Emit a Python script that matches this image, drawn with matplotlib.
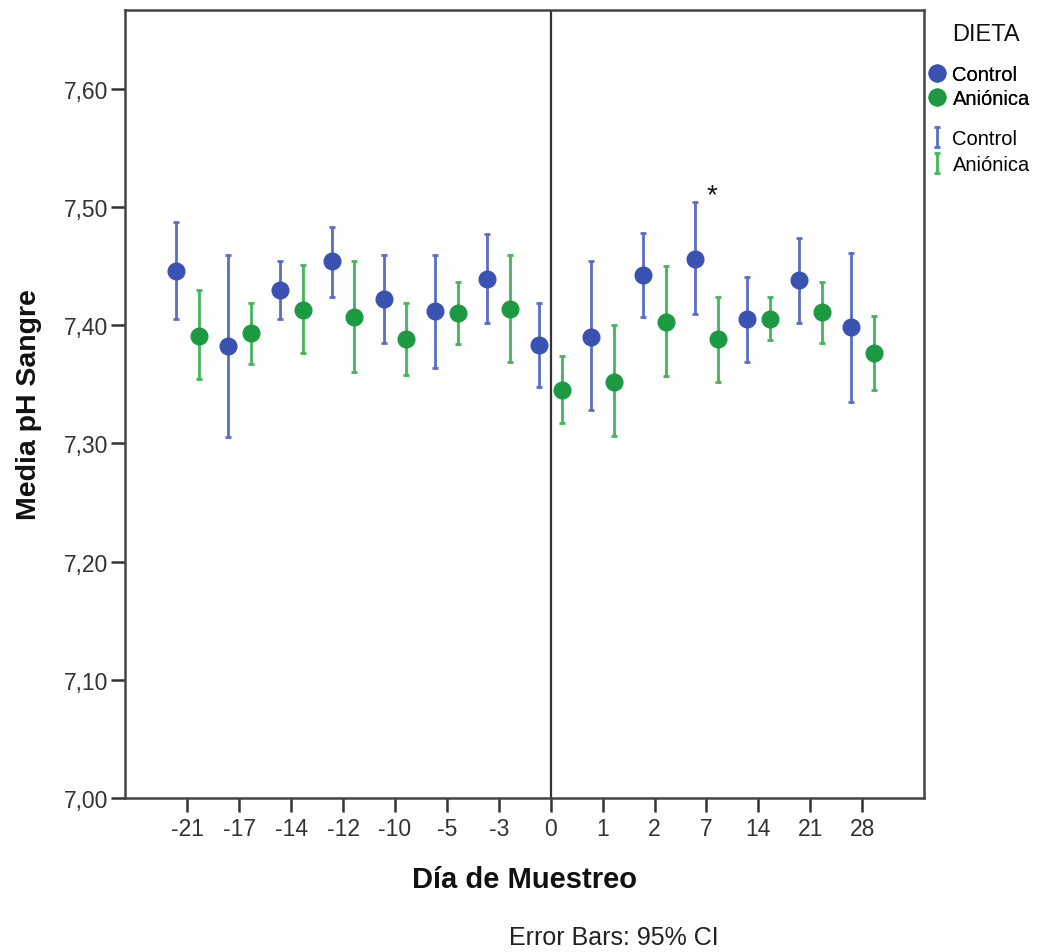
import numpy as np
import matplotlib
matplotlib.use('Agg')
import matplotlib.pyplot as plt
import matplotlib.ticker as mtick

plt.rcParams['font.family'] = ['Liberation Sans', 'DejaVu Sans']

# sampling days and blood pH means with 95% CI bounds per diet
days = ['-21', '-17', '-14', '-12', '-10', '-5', '-3', '0', '1', '2', '7', '14', '21', '28']
ctl_mean = [7.446, 7.382, 7.430, 7.454, 7.422, 7.412, 7.439, 7.383, 7.390, 7.442, 7.456, 7.405, 7.438, 7.398]
ctl_lo = [7.405, 7.305, 7.405, 7.424, 7.385, 7.364, 7.402, 7.348, 7.328, 7.407, 7.409, 7.369, 7.402, 7.335]
ctl_hi = [7.487, 7.459, 7.454, 7.483, 7.459, 7.459, 7.477, 7.419, 7.454, 7.478, 7.504, 7.441, 7.474, 7.461]
ani_mean = [7.391, 7.393, 7.413, 7.407, 7.388, 7.410, 7.414, 7.345, 7.352, 7.403, 7.388, 7.405, 7.411, 7.376]
ani_lo = [7.354, 7.367, 7.376, 7.360, 7.358, 7.384, 7.369, 7.317, 7.306, 7.357, 7.352, 7.387, 7.385, 7.345]
ani_hi = [7.430, 7.419, 7.451, 7.454, 7.419, 7.436, 7.459, 7.374, 7.400, 7.450, 7.424, 7.424, 7.436, 7.408]
signif_day = '7'

blue = '#3a53b3'
green = '#1c9a42'
blue_bar = '#5a6ec4'
green_bar = '#45b45a'

fig = plt.figure(figsize=(10.45, 9.53), dpi=100)
ax = fig.add_axes([0.1196, 0.1616, 0.7646, 0.8269])

x = np.arange(len(days))
off = 0.22
cm, cl, ch = map(np.array, (ctl_mean, ctl_lo, ctl_hi))
am, al, ah = map(np.array, (ani_mean, ani_lo, ani_hi))

eb_c = ax.errorbar(x - off, cm, yerr=[cm - cl, ch - cm], fmt='none', ecolor=blue_bar,
                   elinewidth=2.0, capsize=2.2, capthick=2.0, zorder=2)
eb_a = ax.errorbar(x + off, am, yerr=[am - al, ah - am], fmt='none', ecolor=green_bar,
                   elinewidth=2.0, capsize=2.2, capthick=2.0, zorder=2)
pt_c, = ax.plot(x - off, cm, 'o', color=blue, ms=12, mec=blue, zorder=3)
pt_a, = ax.plot(x + off, am, 'o', color=green, ms=12, mec=green, zorder=3)

# reference line at day 0 and significance mark
ax.axvline(days.index('0'), color='#333333', lw=1.6, zorder=1)
i7 = days.index(signif_day)
ax.text(i7 + 0.1, max(ch[i7], ah[i7]) + 0.006, '*', ha='center', va='center',
        fontsize=20, color='#111111')

ax.set_xlim(-1.2, len(days) - 1 + 1.19)
ax.set_ylim(7.0, 7.6665)
ax.set_xticks(x)
ax.set_xticklabels(days)
ax.set_yticks(np.arange(7.0, 7.61, 0.1))
ax.yaxis.set_major_formatter(mtick.FuncFormatter(lambda v, p: f'{v:.2f}'.replace('.', ',')))
ax.tick_params(direction='out', length=10, width=1.8, colors='#333333', labelsize=16.5)
ax.tick_params(axis='y', pad=2)
ax.tick_params(axis='x', pad=4)
for s in ax.spines.values():
    s.set_color('#444444')
    s.set_linewidth(1.8)

ax.set_xlabel('Día de Muestreo', fontsize=21, fontweight='bold', color='#111111')
ax.xaxis.set_label_coords(0.5, -0.085)
ax.set_ylabel('Media pH Sangre', fontsize=20.5, fontweight='bold', color='#111111')
ax.yaxis.set_label_coords(-0.104, 0.5)

fig.text(0.587, 0.016, 'Error Bars: 95% CI', ha='center', va='center', fontsize=18, color='#222222')

# legends: points and error bars
fig.text(0.9435, 0.963, 'DIETA', ha='center', va='center', fontsize=17, color='#111111')
leg1 = fig.legend([pt_c, pt_a], ['Control', 'Aniónica'], loc='center left',
                  bbox_to_anchor=(0.8835, 0.9082), frameon=False, fontsize=14.5,
                  handlelength=0.6, handletextpad=0.45, labelspacing=0.25, borderaxespad=0)
leg2 = fig.legend([eb_c, eb_a], ['Control', 'Aniónica'], loc='center left',
                  bbox_to_anchor=(0.8835, 0.840), frameon=False, fontsize=14.5,
                  handlelength=0.6, handletextpad=0.45, labelspacing=0.35, borderaxespad=0)
fig.add_artist(leg1)

fig.savefig('out.png', dpi=100)
